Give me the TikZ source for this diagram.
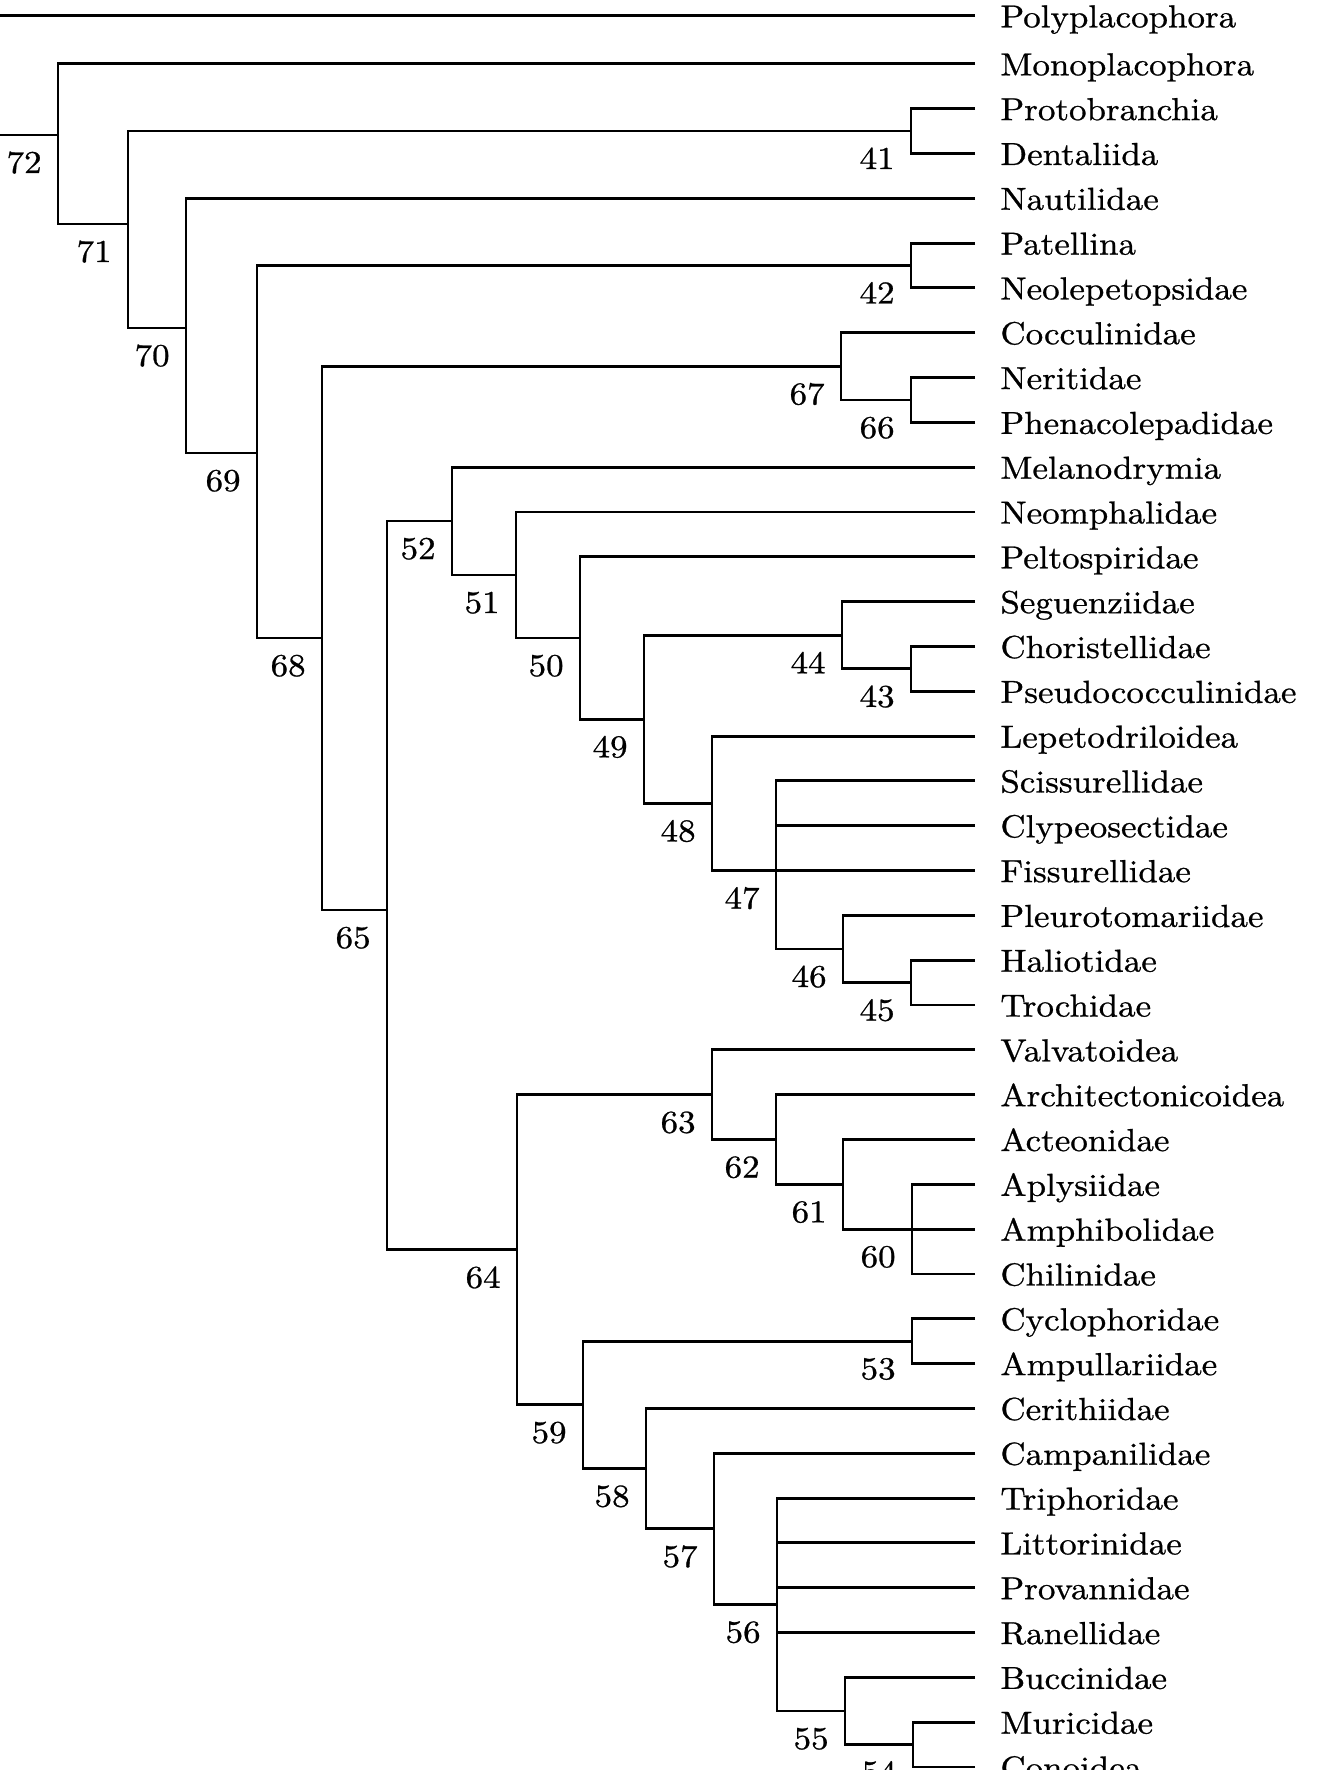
\documentclass[tikz,border=0pt]{standalone}
\usepackage{fontspec}
\setmainfont{lmroman10-regular.otf}[FakeStretch=1.1,FakeBold=0.8]
\newcommand\mkleaf[3]{%
  \coordinate (#1) at (975,{19+44.82*#2});
  \node[leaftext] (#1t) at (1000,{19+44.82*#2+11.5}) {#3};}
\newcommand\mknum[2]{%
  \node[numtext] (l#1) at ([shift={(-16,38)}]#2) {#1};}
\begin{document}
\begin{tikzpicture}[x=0.5pt,y=-0.5pt,
  br/.style={line width=1.45pt, line join=miter},
  leaftext/.style={anchor=base west, inner sep=0pt, font=\fontsize{15.9}{18}\selectfont},
  numtext/.style={anchor=base east, inner sep=0pt, font=\fontsize{15.9}{18}\selectfont}]
\useasboundingbox (0,0) rectangle (1326,1770);
\clip (0,0) rectangle (1326,1770);

% leaves
\mkleaf{a0}{-0.07}{Polyplacophora}
\mkleaf{a1}{1}{Monoplacophora}
\mkleaf{a2}{2}{Protobranchia}
\mkleaf{a3}{3}{Dentaliida}
\mkleaf{a4}{4}{Nautilidae}
\mkleaf{a5}{5}{Patellina}
\mkleaf{a6}{6}{Neolepetopsidae}
\mkleaf{a7}{7}{Cocculinidae}
\mkleaf{a8}{8}{Neritidae}
\mkleaf{a9}{9}{Phenacolepadidae}
\mkleaf{a10}{10}{Melanodrymia}
\mkleaf{a11}{11}{Neomphalidae}
\mkleaf{a12}{12}{Peltospiridae}
\mkleaf{a13}{13}{Seguenziidae}
\mkleaf{a14}{14}{Choristellidae}
\mkleaf{a15}{15}{Pseudococculinidae}
\mkleaf{a16}{16}{Lepetodriloidea}
\mkleaf{a17}{17}{Scissurellidae}
\mkleaf{a18}{18}{Clypeosectidae}
\mkleaf{a19}{19}{Fissurellidae}
\mkleaf{a20}{20}{Pleurotomariidae}
\mkleaf{a21}{21}{Haliotidae}
\mkleaf{a22}{22}{Trochidae}
\mkleaf{a23}{23}{Valvatoidea}
\mkleaf{a24}{24}{Architectonicoidea}
\mkleaf{a25}{25}{Acteonidae}
\mkleaf{a26}{26}{Aplysiidae}
\mkleaf{a27}{27}{Amphibolidae}
\mkleaf{a28}{28}{Chilinidae}
\mkleaf{a29}{29}{Cyclophoridae}
\mkleaf{a30}{30}{Ampullariidae}
\mkleaf{a31}{31}{Cerithiidae}
\mkleaf{a32}{32}{Campanilidae}
\mkleaf{a33}{33}{Triphoridae}
\mkleaf{a34}{34}{Littorinidae}
\mkleaf{a35}{35}{Provannidae}
\mkleaf{a36}{36}{Ranellidae}
\mkleaf{a37}{37}{Buccinidae}
\mkleaf{a38}{38}{Muricidae}
\mkleaf{a39}{39}{Conoidea}

% internal nodes
\coordinate (root) at (-30,75);
\coordinate (n72) at (58,135);
\coordinate (n71) at (128,224);
\coordinate (n41) at (911,131);
\coordinate (n70) at (186,328);
\coordinate (n69) at (257,453);
\coordinate (n42) at (911,265.5);
\coordinate (n68) at (322,638);
\coordinate (n67) at (841,366.4);
\coordinate (n66) at (911,400);
\coordinate (n65) at (387,910);
\coordinate (n52) at (452,521);
\coordinate (n51) at (516,575);
\coordinate (n50) at (580,638);
\coordinate (n49) at (644,719.3);
\coordinate (n44) at (842,635.3);
\coordinate (n43) at (911,668.9);
\coordinate (n48) at (712,803.4);
\coordinate (n47) at (776,870.6);
\coordinate (n46) at (843,949);
\coordinate (n45) at (911,982.6);
\coordinate (n64) at (517,1249.8);
\coordinate (n63) at (712,1094.7);
\coordinate (n62) at (776,1139.5);
\coordinate (n61) at (843,1184.3);
\coordinate (n60) at (912,1229.1);
\coordinate (n59) at (583,1404.9);
\coordinate (n53) at (912,1341.2);
\coordinate (n58) at (646,1468.6);
\coordinate (n57) at (714,1528.9);
\coordinate (n56) at (777,1604.5);
\coordinate (n55) at (845,1711);
\coordinate (n54) at (913,1744.6);

% branches
\draw[br] (a0) -| (root);  \draw[br] (n72) -| (root);
\draw[br] (a1) -| (n72);   \draw[br] (n71) -| (n72);
\draw[br] (n41) -| (n71);  \draw[br] (n70) -| (n71);
\draw[br] (a2) -| (n41);   \draw[br] (a3) -| (n41);
\draw[br] (a4) -| (n70);   \draw[br] (n69) -| (n70);
\draw[br] (n42) -| (n69);  \draw[br] (n68) -| (n69);
\draw[br] (a5) -| (n42);   \draw[br] (a6) -| (n42);
\draw[br] (n67) -| (n68);  \draw[br] (n65) -| (n68);
\draw[br] (a7) -| (n67);   \draw[br] (n66) -| (n67);
\draw[br] (a8) -| (n66);   \draw[br] (a9) -| (n66);
\draw[br] (n52) -| (n65);  \draw[br] (n64) -| (n65);
\draw[br] (a10) -| (n52);  \draw[br] (n51) -| (n52);
\draw[br] (a11) -| (n51);  \draw[br] (n50) -| (n51);
\draw[br] (a12) -| (n50);  \draw[br] (n49) -| (n50);
\draw[br] (n44) -| (n49);  \draw[br] (n48) -| (n49);
\draw[br] (a13) -| (n44);  \draw[br] (n43) -| (n44);
\draw[br] (a14) -| (n43);  \draw[br] (a15) -| (n43);
\draw[br] (a16) -| (n48);  \draw[br] (n47) -| (n48);
\draw[br] (a17) -| (n47);  \draw[br] (a18) -| (n47);
\draw[br] (a19) -| (n47);  \draw[br] (n46) -| (n47);
\draw[br] (a20) -| (n46);  \draw[br] (n45) -| (n46);
\draw[br] (a21) -| (n45);  \draw[br] (a22) -| (n45);
\draw[br] (n63) -| (n64);  \draw[br] (n59) -| (n64);
\draw[br] (a23) -| (n63);  \draw[br] (n62) -| (n63);
\draw[br] (a24) -| (n62);  \draw[br] (n61) -| (n62);
\draw[br] (a25) -| (n61);  \draw[br] (n60) -| (n61);
\draw[br] (a26) -| (n60);  \draw[br] (a27) -| (n60);
\draw[br] (a28) -| (n60);
\draw[br] (n53) -| (n59);  \draw[br] (n58) -| (n59);
\draw[br] (a29) -| (n53);  \draw[br] (a30) -| (n53);
\draw[br] (a31) -| (n58);  \draw[br] (n57) -| (n58);
\draw[br] (a32) -| (n57);  \draw[br] (n56) -| (n57);
\draw[br] (a33) -| (n56);  \draw[br] (a34) -| (n56);
\draw[br] (a35) -| (n56);  \draw[br] (a36) -| (n56);
\draw[br] (n55) -| (n56);
\draw[br] (a37) -| (n55);  \draw[br] (n54) -| (n55);
\draw[br] (a38) -| (n54);  \draw[br] (a39) -| (n54);

% node numbers
\mknum{72}{n72}
\mknum{71}{n71}
\mknum{70}{n70}
\mknum{69}{n69}
\mknum{68}{n68}
\mknum{67}{n67}
\mknum{66}{n66}
\mknum{65}{n65}
\mknum{64}{n64}
\mknum{63}{n63}
\mknum{62}{n62}
\mknum{61}{n61}
\mknum{60}{n60}
\mknum{59}{n59}
\mknum{58}{n58}
\mknum{57}{n57}
\mknum{56}{n56}
\mknum{55}{n55}
\mknum{54}{n54}
\mknum{53}{n53}
\mknum{52}{n52}
\mknum{51}{n51}
\mknum{50}{n50}
\mknum{49}{n49}
\mknum{48}{n48}
\mknum{47}{n47}
\mknum{46}{n46}
\mknum{45}{n45}
\mknum{44}{n44}
\mknum{43}{n43}
\mknum{42}{n42}
\mknum{41}{n41}
\end{tikzpicture}
\end{document}
